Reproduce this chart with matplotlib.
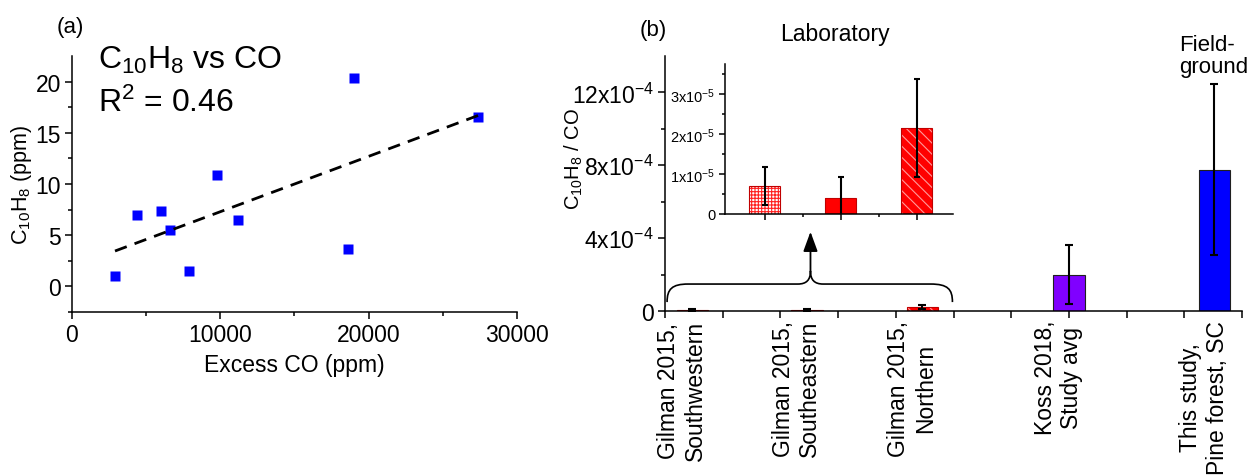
import numpy as np
import matplotlib.pyplot as plt
from matplotlib.path import Path
from matplotlib.patches import PathPatch

plt.rcParams['font.family'] = ['Liberation Sans', 'DejaVu Sans']
plt.rcParams['mathtext.fontset'] = 'custom'
plt.rcParams['mathtext.rm'] = 'Liberation Sans'
plt.rcParams['mathtext.it'] = 'Liberation Sans:italic'
plt.rcParams['mathtext.bf'] = 'Liberation Sans:bold'
plt.rcParams['hatch.linewidth'] = 0.8

# panel (a): naphthalene vs excess CO
excess_co = [2900, 4400, 6000, 6600, 7900, 9800, 11200, 18600, 19000, 27400]
c10h8_ppm = [1.0, 7.0, 7.4, 5.5, 1.5, 10.9, 6.5, 3.7, 20.4, 16.5]

# panel (b): emission ratios
sources = ['Gilman 2015,\nSouthwestern', 'Gilman 2015,\nSoutheastern',
           'Gilman 2015,\nNorthern', 'Koss 2018,\nStudy avg',
           'This study,\nPine forest, SC']
ratio = [7.0e-6, 4.0e-6, 2.15e-5, 2.0e-4, 7.75e-4]
ratio_err = [4.8e-6, 5.2e-6, 1.23e-5, 1.6e-4, 4.7e-4]
bar_colors = ['#ff0000', '#ff0000', '#ff0000', '#8000ff', '#0000ff']
bar_hatch = ['+++++', None, '\\\\\\', None, None]

main_ticks = [0, 4e-4, 8e-4, 12e-4]
main_ticklabels = ['0', '4x10$^{-4}$', '8x10$^{-4}$', '12x10$^{-4}$']
lab_ticks = [0, 1e-5, 2e-5, 3e-5]
lab_ticklabels = ['0', '1x10$^{-5}$', '2x10$^{-5}$', '3x10$^{-5}$']

# layout
bar_x = [0.47, 2.46, 4.46, 7.0, 9.52]
label_shift = -0.18
fs = 16.5


def style(ax, size=fs, major=5, minor=3):
    for s in ['top', 'right']:
        ax.spines[s].set_visible(False)
    for s in ['left', 'bottom']:
        ax.spines[s].set_linewidth(1.1)
    ax.tick_params(which='major', direction='out', length=major, width=1.1,
                   labelsize=size, pad=3)
    ax.tick_params(which='minor', direction='out', length=minor, width=1.1)


def draw_bars(ax, xs, hs, errs, width, capsize):
    for x, h, e, c, hatch in zip(xs, hs, errs, bar_colors[:len(xs)],
                                 bar_hatch[:len(xs)]):
        if hatch == '+++++':
            ax.bar(x, h, width, color='white', edgecolor='#ff2020',
                   hatch=hatch, lw=0)
        elif hatch:
            ax.bar(x, h, width, color=c, edgecolor='#ff9a9a',
                   hatch=hatch, lw=0)
        else:
            ax.bar(x, h, width, color=c, lw=0)
        edge = '#c00000' if c == '#ff0000' else '#202020'
        ax.bar(x, h, width, fill=False, edgecolor=edge, lw=0.8)
        ax.errorbar(x, h, yerr=e, fmt='none', ecolor='black',
                    elinewidth=1.5, capsize=capsize, capthick=1.5)


fig = plt.figure(figsize=(12.52, 4.77), dpi=100)

# ---- (a)
ax1 = fig.add_axes([0.0575, 0.3438, 0.3554, 0.5367])
style(ax1)
ax1.plot(excess_co, c10h8_ppm, 's', color='#0000ff', ms=7.5, mec='none')
coef = np.polyfit(excess_co, c10h8_ppm, 1)
xx = np.array([min(excess_co), max(excess_co)])
ax1.plot(xx, np.polyval(coef, xx), '--', color='black', lw=2, dashes=(4.5, 3))
ax1.set_xlim(0, 30000)
ax1.set_ylim(-2.5, 22.5)
ax1.set_xticks([0, 10000, 20000, 30000])
ax1.set_xticks([5000, 15000, 25000], minor=True)
ax1.set_yticks([0, 5, 10, 15, 20])
ax1.set_yticks([-2.5, 2.5, 7.5, 12.5, 17.5], minor=True)
ax1.set_xlabel('Excess CO (ppm)', fontsize=fs)
ax1.xaxis.set_label_coords(0.5, -0.16)
ax1.set_ylabel(r'C$_{10}$H$_8$ (ppm)', fontsize=15.5)
ax1.yaxis.set_label_coords(-0.085, 0.5)

fig.text(0.056, 0.943, '(a)', ha='center', va='center', fontsize=16)
fig.text(0.0783, 0.874, r'C$_{10}$H$_8$ vs CO', fontsize=23, va='center')
fig.text(0.0783, 0.784, r'R$^2$ = 0.46', fontsize=23, va='center')

# ---- (b) main
ax2 = fig.add_axes([0.5312, 0.3459, 0.4609, 0.5346])
style(ax2)
draw_bars(ax2, bar_x, ratio, ratio_err, 0.54, 3)
ax2.set_xlim(0, 10)
ax2.set_ylim(0, 14e-4)
ax2.set_xticks(range(0, 11))
ax2.set_xticklabels([])
ax2.set_yticks(main_ticks)
ax2.set_yticklabels(main_ticklabels)
ax2.set_yticks([2e-4, 6e-4, 10e-4], minor=True)
ax2.set_ylabel(r'C$_{10}$H$_8$ / CO', fontsize=14.5)
ax2.yaxis.set_label_coords(-0.139, 0.6)
for x, lab in zip(bar_x, sources):
    ax2.text(x + label_shift, -0.035, lab, transform=ax2.get_xaxis_transform(),
             rotation=90, ha='center', va='top', ma='center', fontsize=16.5)

# curly brace + arrow pointing at the inset
verts = [(0.035, 0.49e-4),
         (0.035, 1.2e-4), (0.12, 1.48e-4), (0.40, 1.48e-4),
         (2.30, 1.48e-4),
         (2.45, 1.48e-4), (2.52, 1.70e-4), (2.52, 2.2e-4),
         (2.52, 1.70e-4), (2.59, 1.48e-4), (2.74, 1.48e-4),
         (4.60, 1.48e-4),
         (4.90, 1.48e-4), (4.98, 1.2e-4), (4.98, 0.49e-4)]
codes = [Path.MOVETO] + [Path.CURVE4] * 3 + [Path.LINETO] + \
        [Path.CURVE4] * 6 + [Path.LINETO] + [Path.CURVE4] * 3
ax2.add_patch(PathPatch(Path(verts, codes), fill=False, lw=1.2,
                        edgecolor='black'))
ax2.annotate('', xy=(2.52, 4.35e-4), xytext=(2.52, 2.2e-4),
             arrowprops=dict(arrowstyle='-|>,head_length=0.6,head_width=0.22',
                             mutation_scale=20, lw=1.3, color='black',
                             shrinkA=0, shrinkB=0))

fig.text(0.5216, 0.937, '(b)', ha='center', va='center', fontsize=16)
fig.text(0.667, 0.927, 'Laboratory', ha='center', va='center', fontsize=fs)
fig.text(0.9417, 0.882, 'Field-\nground', ha='left', va='center',
         ma='left', fontsize=16, linespacing=1.05)

# ---- (b) inset
ax3 = fig.add_axes([0.5791, 0.5493, 0.1821, 0.3145])
ax3.patch.set_visible(False)
style(ax3, size=10.5, major=4, minor=2)
draw_bars(ax3, [1, 2, 3], ratio[:3], ratio_err[:3], 0.41, 2.5)
ax3.set_xlim(0.48, 3.48)
ax3.set_ylim(0, 3.75e-5)
ax3.set_xticks([1, 2, 3])
ax3.set_xticklabels([])
ax3.set_xticks([1.5, 2.5], minor=True)
ax3.set_yticks(lab_ticks)
ax3.set_yticklabels(lab_ticklabels)
ax3.set_yticks([0.5e-5, 1.5e-5, 2.5e-5, 3.5e-5], minor=True)

fig.savefig('out.png', dpi=100)
